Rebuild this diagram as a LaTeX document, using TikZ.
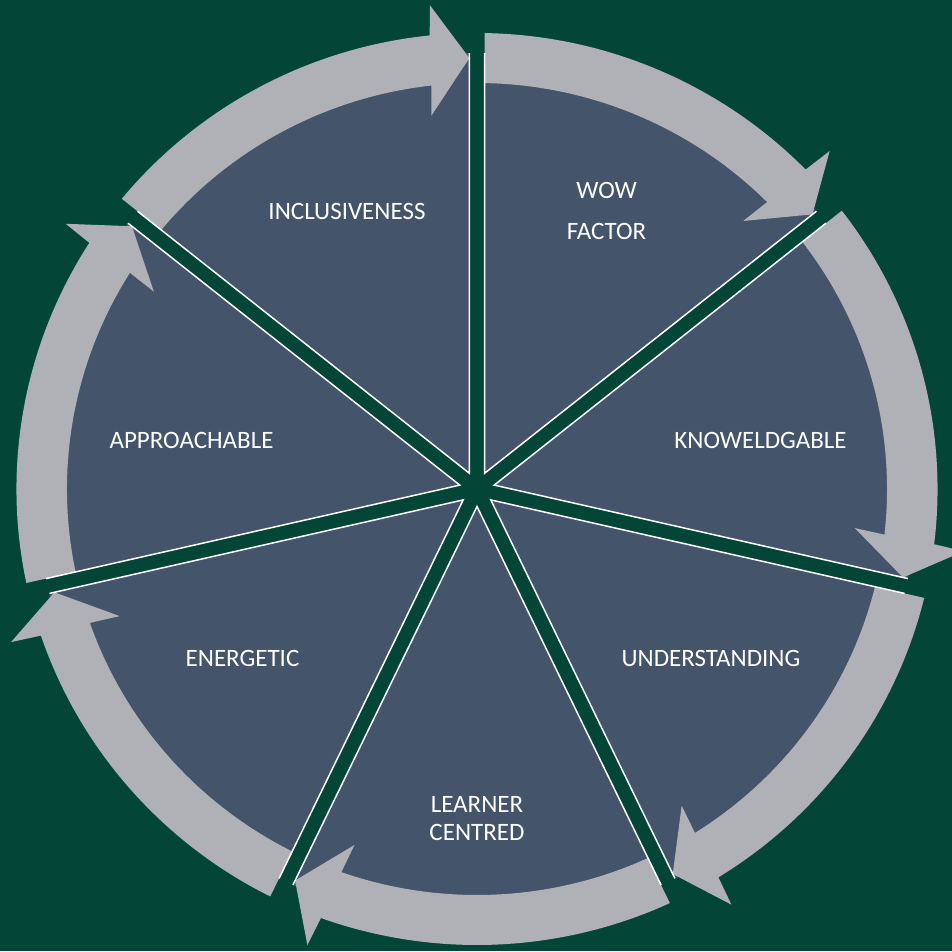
\documentclass[tikz,border=0pt]{standalone}
\usepackage{fontspec}
\setmainfont{Carlito}
\definecolor{bggreen}{RGB}{3,70,56}
\definecolor{slate}{RGB}{68,84,106}
\definecolor{ringgrey}{RGB}{176,177,182}
\begin{document}
\begin{tikzpicture}[x=1pt,y=1pt,
  lbl/.style={text=white,font=\fontsize{25}{28}\selectfont,align=center,inner sep=0pt},
  sectorfill/.style={fill=slate},
  ringfill/.style={fill=ringgrey},
  edgeline/.style={draw=white,line width=1.5pt,line join=miter}]
\fill[bggreen] (-477,-462) rectangle (475,489);
\useasboundingbox (-477,-462) rectangle (475,489);
\begin{scope}[xscale=1.01]
% sectors
\foreach \k in {0,...,6}{
  \pgfmathsetmacro\sa{90-\k*360/7}
  \pgfmathsetmacro\sb{\sa-360/7}
  \pgfmathsetmacro\bi{\sa-180/7}
  \path[sectorfill] (\bi:17.5) -- ({\sa-1.0}:436)
     arc[start angle=\sa-1.0, end angle=\sb+1.0, radius=436] -- cycle;
}
% circular arrows
\foreach \k in {0,...,6}{
  \pgfmathsetmacro\sa{90-\k*360/7}
  \pgfmathsetmacro\sb{\sa-360/7}
  \path[ringfill] ({\sa-1.07}:406) -- ({\sa-0.96}:456)
     arc[start angle=\sa-0.96, end angle=\sb+5.9, radius=456]
     -- ({\sb+5.5}:486) -- ({\sb+1.01}:431) -- ({\sb+6.9}:376) -- ({\sb+6.4}:406)
     arc[start angle=\sb+6.4, end angle=\sa-1.07, radius=406] -- cycle;
}
% white sector edges
\foreach \k in {0,...,6}{
  \pgfmathsetmacro\sa{90-\k*360/7}
  \pgfmathsetmacro\sb{\sa-360/7}
  \pgfmathsetmacro\bi{\sa-180/7}
  \path[edgeline] ({\sa-1.0}:436) -- (\bi:17.5) -- ({\sb+1.0}:436);
}
\end{scope}
% labels
\node[lbl] (wow) at (129.5,278) {WOW\\[13pt]FACTOR};
\node[lbl] (know) at (283.5,49) {KNOWELDGABLE};
\node[lbl] (under) at (234,-169.5) {UNDERSTANDING};
\node[lbl] (learner) at (0,-330) {LEARNER\\CENTRED};
\node[lbl] (energ) at (-234.5,-169) {ENERGETIC};
\node[lbl] (appro) at (-285.5,49) {APPROACHABLE};
\node[lbl] (incl) at (-130,278) {INCLUSIVENESS};
\end{tikzpicture}
\end{document}
